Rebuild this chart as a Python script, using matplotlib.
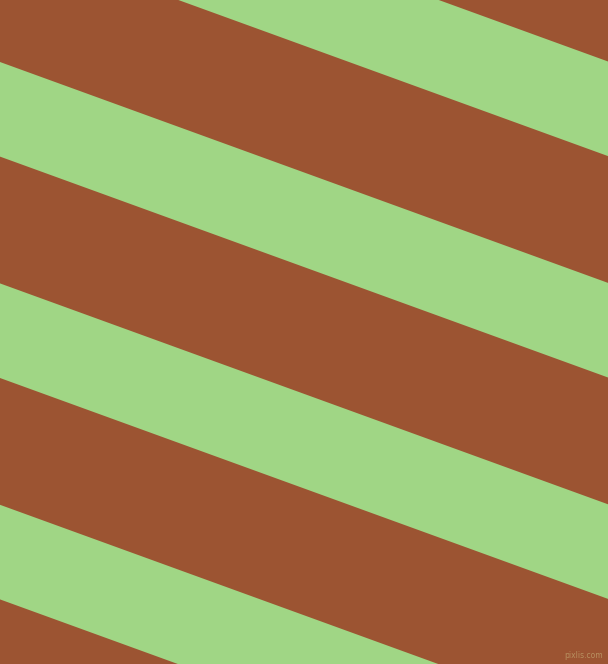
import matplotlib
matplotlib.use("Agg")
import matplotlib.pyplot as plt
import numpy as np

# Stripe data
width_px = 608
height_px = 664
slope = 0.3633                     # downward slope of stripes (~20 degrees)
green_starts = [-159.4, 62.0, 283.4, 504.8]   # upper edge of each green band at x=0
green_band = 94.6                  # vertical thickness of green band
brown_color = "#9C5432"
green_color = "#A0D685"
watermark = "pixlis.com"

fig = plt.figure(figsize=(width_px / 100, height_px / 100), dpi=100)
ax = fig.add_axes([0, 0, 1, 1])
ax.set_facecolor(brown_color)
ax.set_xlim(0, width_px)
ax.set_ylim(height_px, 0)

x = np.array([0.0, float(width_px)])
for a in green_starts:
    ax.fill_between(x, a + slope * x, a + green_band + slope * x,
                    color=green_color, linewidth=0, antialiased=True)

ax.text(603, 656, watermark, ha="right", va="center", fontsize=5.5,
        color="#B89060", family="DejaVu Sans")
ax.axis("off")
fig.patch.set_facecolor(brown_color)
fig.savefig("out.png", dpi=100, facecolor=brown_color)
